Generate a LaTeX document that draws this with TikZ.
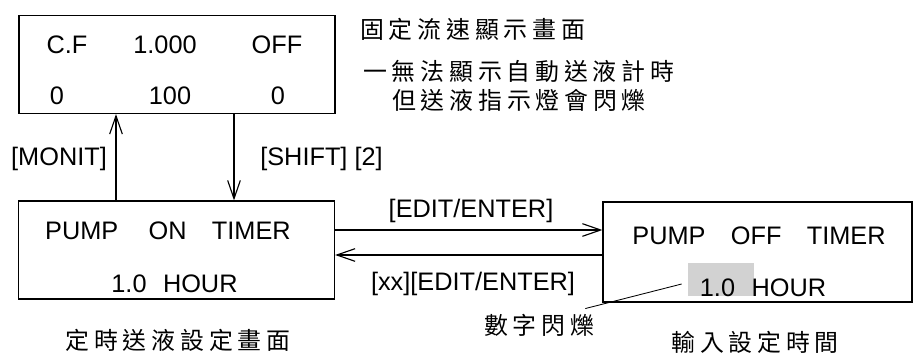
\documentclass[tikz,border=0pt]{standalone}
\usepackage{fontspec}
\setmainfont{Liberation Sans}
\newfontfamily\cjk[LetterSpace=20]{Noto Sans CJK TC}
\usetikzlibrary{arrows.meta}
\usetikzlibrary{positioning}

\tikzset{
  screen/.style={draw, line width=0.8pt, minimum width=7.9cm, minimum height=2.45cm},
  flow/.style={-{Straight Barb[length=13pt,width=9pt]}, line width=0.8pt},
  lcd/.style={font=\fontsize{18}{20}\selectfont, inner sep=0pt},
  note/.style={font=\cjk\fontsize{17}{20}\selectfont, inner sep=0pt},
}

\begin{document}
\begin{tikzpicture}[x=0.025cm,y=-0.025cm]
\useasboundingbox (0,0) rectangle (914,354);

\node[screen] (cf) at (177,64.5) {};
\node[screen] (on) at (176.5,250) {};
\node[screen, minimum width=7.725cm, minimum height=2.5cm] (off) at (757.5,252) {};
\node[fill=gray!35, minimum width=1.65cm, minimum height=0.825cm, inner sep=0pt] (digits) at (721,279.5) {};

% constant flow screen
\node[lcd] (cfname) at (67,45) {C.F};
\node[lcd] (cfrate) at (165,45) {1.000};
\node[lcd] (cfstate) at (277,45) {OFF};
\node[lcd] (cfa) at (57,96) {0};
\node[lcd] (cfb) at (170,96) {100};
\node[lcd] (cfc) at (278,96) {0};

\node[note, anchor=west] (cftitle) at (360,29) {固定流速顯示畫面};
\node[note, anchor=west] (cfnote) at (363,71) {一無法顯示自動送液計時};
\node[note, anchor=west] (cfnote2) at (392,100) {但送液指示燈會閃爍};

% timer screens
\node[lcd] (ontitle) at (168,230.5) {PUMP\hspace{1.2em}ON\hspace{1em}TIMER};
\node[lcd] (ontime) at (174.5,284) {1.0\hspace{0.65em}HOUR};
\node[lcd] (offtitle) at (759,236) {PUMP\hspace{1em}OFF\hspace{1em}TIMER};
\node[lcd] (offtime) at (763,287.5) {1.0\hspace{0.65em}HOUR};

\node[note] (oncap) at (178,340) {定時送液設定畫面};
\node[note] (offcap) at (755,342) {輸入設定時間};
\node[note] (blink) at (539,325) {數字閃爍};

% keys
\coordinate (monit) at (116,0);
\coordinate (shift) at (234,0);
\coordinate (fwd) at (0,230);
\coordinate (back) at (0,255);

\draw[flow] (monit |- on.north) -- (monit |- cf.south);
\draw[flow] (shift |- cf.south) -- (shift |- on.north);
\draw[flow] (fwd -| on.east) -- (fwd -| off.west);
\draw[flow] (back -| off.west) -- (back -| on.east);
\draw[line width=0.6pt] ([xshift=-4.3pt,yshift=-3.2pt]digits.west) -- ([xshift=-6.4pt,yshift=3.6pt]blink.north east);

\node[lcd] (monitkey) at (59,158.5) {[MONIT]};
\node[lcd] (shiftkey) at (321.5,158.5) {[SHIFT] [2]};
\node[lcd] (editkey) at (471,210.5) {[EDIT/ENTER]};
\node[lcd] (setkey) at (473,284) {[xx][EDIT/ENTER]};

\end{tikzpicture}
\end{document}
